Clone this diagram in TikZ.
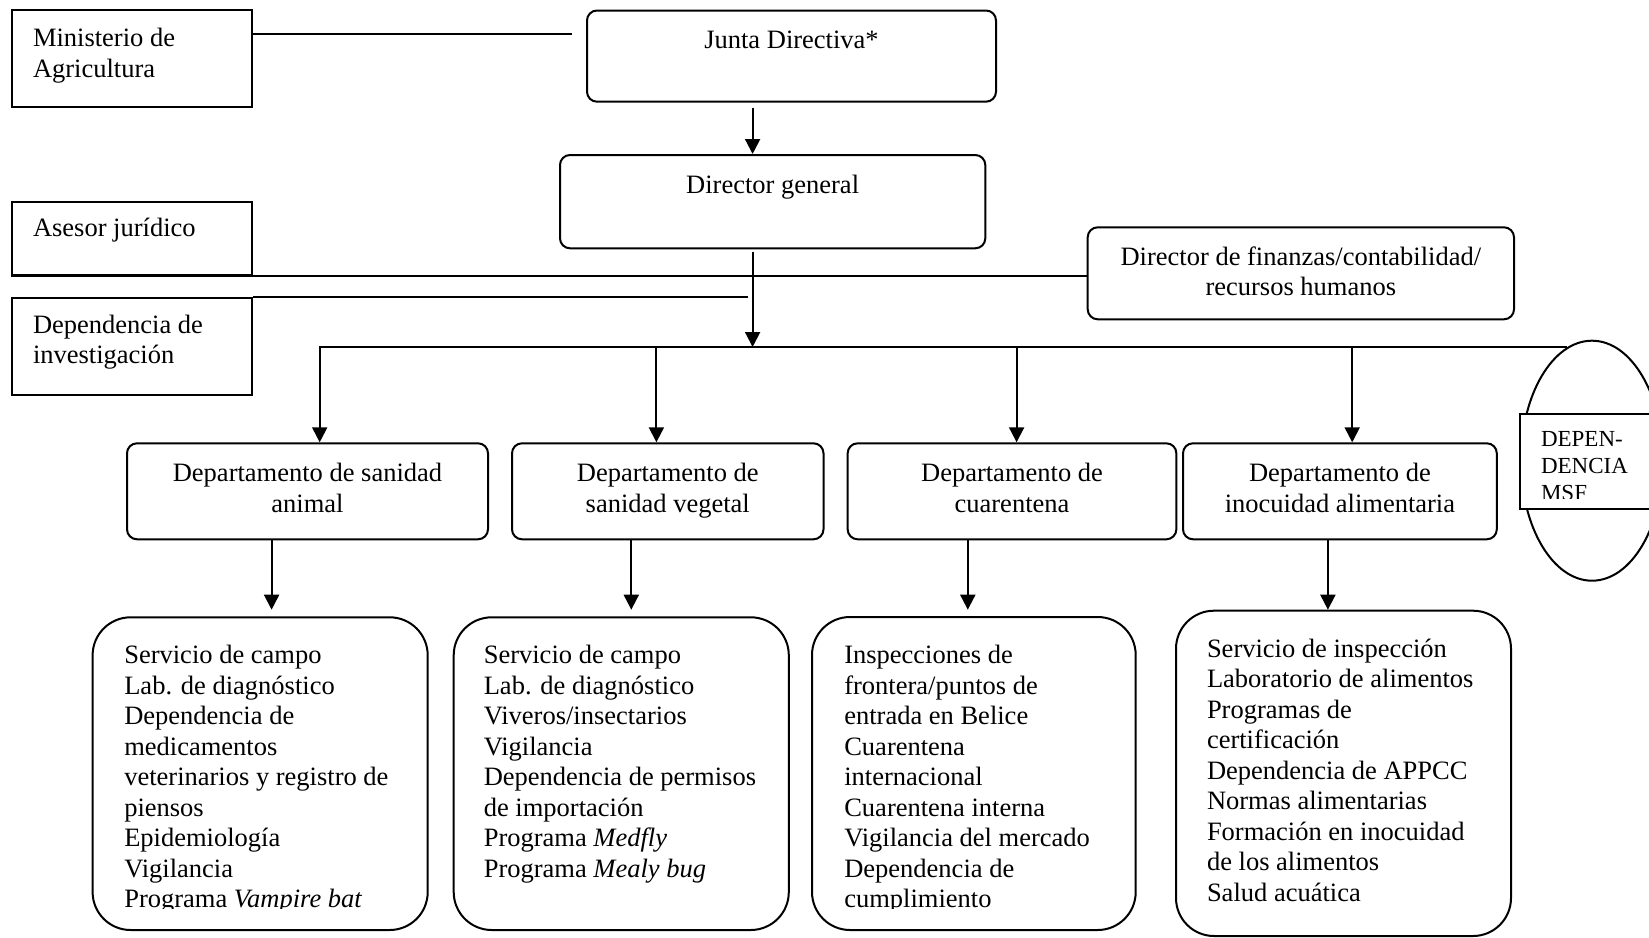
\documentclass[tikz,border=0pt]{standalone}
\usepackage{fontspec}
\setmainfont{Liberation Serif}
\usetikzlibrary{arrows.meta,shapes.geometric}
\newcommand\txtsz{\fontsize{26.5}{30.5}\selectfont}
\newcommand\msfsz{\fontsize{23}{27}\selectfont}
\begin{document}
\begin{tikzpicture}[x=1pt,y=-1pt,
  line width=2pt,
  sq/.style={draw, rectangle, inner sep=0pt},
  rbox/.style={draw, rectangle, rounded corners=10pt, inner sep=0pt},
  bbox/.style={draw, rectangle, rounded corners=38pt, inner sep=0pt},
  lbl/.style={anchor=base west, inner sep=0pt, font=\txtsz},
  clbl/.style={anchor=base, inner sep=0pt, font=\txtsz},
  arr/.style={-{Triangle[length=15pt,width=15pt]}},
]
\useasboundingbox (0,0) rectangle (1649,937);
\clip (0,0) rectangle (1649,937);

% top level
\node[sq, minimum width=240.5pt, minimum height=96.5pt] (min) at (131.75,58.25) {};
\node[lbl] (minT) at (32,46.7) {\parbox[t]{400pt}{Ministerio de\\Agricultura}};

\node[rbox, minimum width=409pt, minimum height=91.2pt] (junta) at (791.5,56.1) {};
\node[clbl] (juntaT) at (791.5,48.3) {Junta Directiva*};

\node[rbox, minimum width=425.3pt, minimum height=93.3pt] (dg) at (772.65,201.65) {};
\node[clbl] (dgT) at (772.65,193.3) {Director general};

\node[sq, minimum width=240.5pt, minimum height=73.3pt] (ases) at (131.75,238.35) {};
\node[lbl] (asesT) at (32,236.7) {Asesor jurídico};

\node[sq, minimum width=240.5pt, minimum height=97pt] (dep) at (131.75,346.5) {};
\node[lbl] (depT) at (32,333.3) {\parbox[t]{400pt}{Dependencia de\\investigación}};

\node[rbox, minimum width=426.3pt, minimum height=92pt] (fin) at (1300.85,273.3) {};
\node[clbl] (finT) at (1300.85,265) {\parbox[t]{500pt}{\centering Director de finanzas/contabilidad/\\recursos humanos}};

% departments
\node[rbox, minimum width=361pt, minimum height=96pt] (d1) at (307.5,491.3) {};
\node[clbl] (d1T) at (307.5,481.7) {\parbox[t]{400pt}{\centering Departamento de sanidad\\animal}};
\node[rbox, minimum width=311.5pt, minimum height=96pt] (d2) at (667.75,491.3) {};
\node[clbl] (d2T) at (667.75,481.7) {\parbox[t]{400pt}{\centering Departamento de\\sanidad vegetal}};
\node[rbox, minimum width=328.7pt, minimum height=96pt] (d3) at (1012,491.3) {};
\node[clbl] (d3T) at (1012,481.7) {\parbox[t]{400pt}{\centering Departamento de\\cuarentena}};
\node[rbox, minimum width=313.8pt, minimum height=96pt] (d4) at (1339.9,491.3) {};
\node[clbl] (d4T) at (1339.9,481.7) {\parbox[t]{400pt}{\centering Departamento de\\inocuidad alimentaria}};

% MSF
\node[draw, ellipse, minimum width=142pt, minimum height=240pt, inner sep=0pt] (msfE) at (1592,460.7) {};
\node[sq, fill=white, minimum width=160pt, minimum height=95.3pt] (msfR) at (1599.9,461.65) {};
\begin{scope}
\clip (1500,400) rectangle (1649,498.3);
\node[anchor=base west, inner sep=0pt, font=\msfsz] (msfT) at (1540,446) {\parbox[t]{200pt}{DEPEN-\\DENCIA\\MSF}};
\end{scope}

% bottom boxes
\node[bbox, minimum width=335.1pt, minimum height=312.7pt] (b1) at (260.15,773.65) {};
\node[bbox, minimum width=335.1pt, minimum height=312.7pt] (b2) at (621.25,773.65) {};
\node[bbox, minimum width=323.7pt, minimum height=313pt] (b3) at (973.85,773.5) {};
\node[bbox, minimum width=335pt, minimum height=325.3pt] (b4) at (1343.5,773.35) {};

\begin{scope}
\clip (0,0) rectangle (1649,908.3);
\node[lbl] (b1T) at (123.3,663.5) {\parbox[t]{400pt}{Servicio de campo\\Lab. de diagnóstico\\Dependencia de\\medicamentos\\veterinarios y registro de\\piensos\\Epidemiología\\Vigilancia\\Programa \textit{Vampire bat}}};
\node[lbl] (b3T) at (843.3,663.5) {\parbox[t]{400pt}{Inspecciones de\\frontera/puntos de\\entrada en Belice\\Cuarentena\\internacional\\Cuarentena interna\\Vigilancia del mercado\\Dependencia de\\cumplimiento}};
\end{scope}
\node[lbl] (b2T) at (482.8,663.5) {\parbox[t]{400pt}{Servicio de campo\\Lab. de diagnóstico\\Viveros/insectarios\\Vigilancia\\Dependencia de permisos\\de importación\\Programa \textit{Medfly}\\Programa \textit{Mealy bug}}};
\node[lbl] (b4T) at (1206,657.3) {\parbox[t]{400pt}{Servicio de inspección\\Laboratorio de alimentos\\Programas de\\certificación\\Dependencia de APPCC\\Normas alimentarias\\Formación en inocuidad\\de los alimentos\\Salud acuática}};

% connectors
\coordinate (y34) at (0,34);
\coordinate (spine) at (752.6,0);
\coordinate (hub) at (752.6,347);
\draw[shorten >=14pt] (min.east |- y34) -- (junta.west |- y34);
\draw[arr, shorten <=5pt] (junta.south -| spine) -- (dg.north -| spine);
\draw[arr, shorten <=2.4pt] (dg.south -| spine) -- (hub);
\draw (ases.south west) -- (fin.west |- ases.south);
\draw[shorten >=5pt] (dep.north east) -- (dep.north -| spine);

\coordinate (a1) at (319.7,347);
\coordinate (a2) at (656.4,347);
\coordinate (a3) at (1016.6,347);
\coordinate (a4) at (1352.2,347);
\coordinate (busR) at (1567,347);
\draw[arr] (busR) -- (a1) -- (d1.north -| a1);
\draw[arr] (a2) -- (d2.north -| a2);
\draw[arr] (a3) -- (d3.north -| a3);
\draw[arr] (a4) -- (d4.north -| a4);

\coordinate (l1) at (271.6,0);
\coordinate (l2) at (631.3,0);
\coordinate (l3) at (967.8,0);
\coordinate (l4) at (1327.9,0);
\draw[arr, shorten >=6.6pt] (d1.south -| l1) -- (b1.north -| l1);
\draw[arr, shorten >=6.6pt] (d2.south -| l2) -- (b2.north -| l2);
\draw[arr, shorten >=6.3pt] (d3.south -| l3) -- (b3.north -| l3);
\draw[arr] (d4.south -| l4) -- (b4.north -| l4);
\end{tikzpicture}
\end{document}
